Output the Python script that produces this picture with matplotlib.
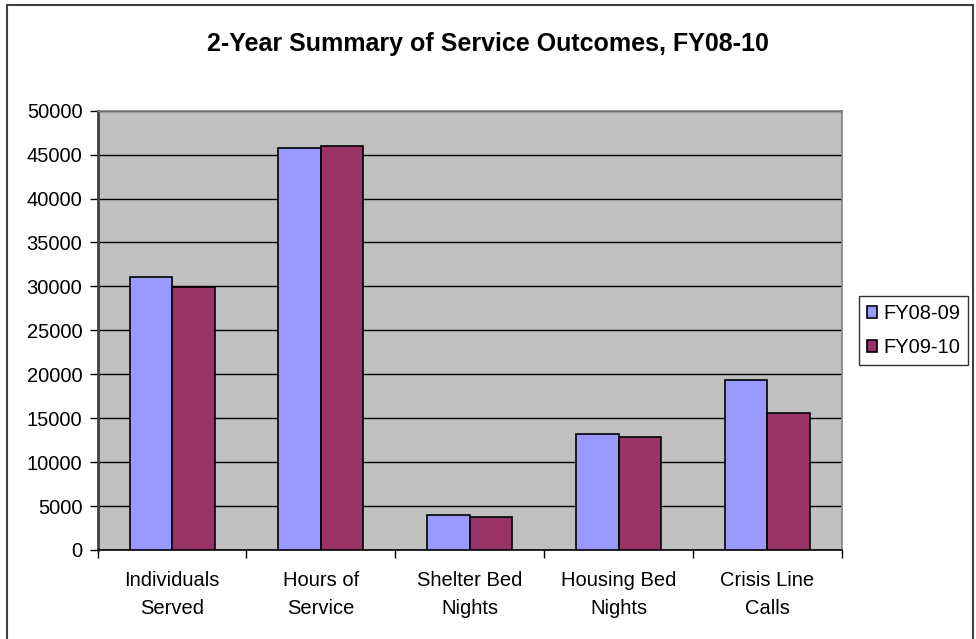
import matplotlib
matplotlib.use('Agg')
import matplotlib.pyplot as plt
from matplotlib.patches import Rectangle
import numpy as np

categories = ['Individuals\nServed', 'Hours of\nService', 'Shelter Bed\nNights',
              'Housing Bed\nNights', 'Crisis Line\nCalls']
fy0809 = [31100, 45800, 4000, 13200, 19300]
fy0910 = [29900, 46000, 3800, 12900, 15600]
series_names = ['FY08-09', 'FY09-10']
y_ticks = list(range(0, 50001, 5000))

plt.rcParams['font.family'] = ['Liberation Sans', 'DejaVu Sans']
fs = 14.5

fig = plt.figure(figsize=(9.76, 6.39), dpi=100)
fig.patch.set_facecolor('white')

# chart area border
fig.patches.append(Rectangle((7 / 976, -0.02), 966 / 976, 1.02 - 5 / 639,
                             transform=fig.transFigure, fill=False,
                             edgecolor='#404040', linewidth=1.5))

ax = fig.add_axes([0.1001, 0.1393, 0.7623, 0.6875])
ax.set_facecolor('#C0C0C0')

x = np.arange(len(categories))
w = 1 / 3.5
ax.bar(x - w / 2, fy0809, w, color='#9999FF', edgecolor='black', linewidth=1.2,
       label=series_names[0], zorder=3)
ax.bar(x + w / 2, fy0910, w, color='#993366', edgecolor='black', linewidth=1.2,
       label=series_names[1], zorder=3)

ax.set_xlim(-0.5, len(categories) - 0.5)
ax.set_ylim(0, 50000)
ax.set_yticks(y_ticks)
ax.set_yticklabels([str(v) for v in y_ticks], fontsize=fs)
ax.yaxis.grid(True, color='black', linewidth=1, zorder=1)
ax.set_axisbelow(True)

ax.set_xticks(x)
ax.set_xticklabels(categories, fontsize=fs, linespacing=1.6)
ax.set_xticks(np.arange(-0.5, len(categories)), minor=True)
ax.tick_params(axis='x', which='major', length=0, pad=15)
ax.tick_params(axis='x', which='minor', length=6, width=1, color='black')
ax.tick_params(axis='y', length=6, width=1, color='black', pad=5)

ax.spines['left'].set_color('#404040')
ax.spines['left'].set_linewidth(2)
ax.spines['bottom'].set_color('black')
ax.spines['bottom'].set_linewidth(1.2)
for s in ['top', 'right']:
    ax.spines[s].set_color('#808080')
    ax.spines[s].set_linewidth(1.2)

fig.text(0.5, 1 - 44 / 639, '2-Year Summary of Service Outcomes, FY08-10',
         ha='center', va='center', fontsize=18, fontweight='bold')

leg = ax.legend(loc='center left', bbox_to_anchor=(859 / 976, 1 - 330.5 / 639),
                bbox_transform=fig.transFigure, fontsize=fs, frameon=True,
                fancybox=False, edgecolor='black', handlelength=0.5,
                handleheight=0.5, handletextpad=0.3, borderpad=0.4,
                labelspacing=0.75, borderaxespad=0)
leg.get_frame().set_linewidth(1)

fig.savefig('out.png', dpi=100, facecolor='white')
